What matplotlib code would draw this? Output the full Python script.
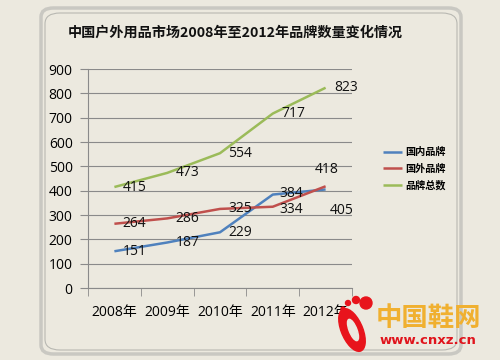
import matplotlib
matplotlib.use("Agg")
import matplotlib.pyplot as plt
from matplotlib.patches import FancyBboxPatch, Ellipse
import numpy as np

years = ["2008年", "2009年", "2010年", "2011年", "2012年"]
domestic = [151, 187, 229, 384, 405]
foreign = [264, 286, 325, 334, 418]
total = [415, 473, 554, 717, 823]
series_names = ["国内品牌", "国外品牌", "品牌总数"]
title = "中国户外用品市场2008年至2012年品牌数量变化情况"

FONT = ["Open Sans", "Noto Sans CJK SC"]
plt.rcParams['font.family'] = FONT
BG = "#ECE9DF"

fig = plt.figure(figsize=(5, 3.6), dpi=100)
fig.patch.set_facecolor(BG)

# outer frame
frame = FancyBboxPatch((41/500, 1-354/360), 420/500, 346/360,
                       boxstyle="round,pad=0,rounding_size=0.025",
                       transform=fig.transFigure, facecolor=BG,
                       edgecolor="#C9C8C2", linewidth=2.5, zorder=-2)
fig.patches.append(frame)
frame2 = FancyBboxPatch((45/500, 1-350/360), 412/500, 337/360,
                        boxstyle="round,pad=0,rounding_size=0.03",
                        transform=fig.transFigure, facecolor="none",
                        edgecolor="#B8B8B2", linewidth=0.8, zorder=-1)
fig.patches.append(frame2)

fig.text(68/500, 1-33/360, title, fontsize=10.2, fontweight="bold",
         family=["Noto Sans CJK SC"], va="center", ha="left", color="#111111")

ax = fig.add_axes([88/500, 1-288/360, 264/500, 219/360])
ax.set_zorder(3)
ax.set_facecolor("none")
x = np.arange(len(years))
colors = ["#4F81BD", "#C0504D", "#9BBB59"]
for vals, c, name in zip([domestic, foreign, total], colors, series_names):
    ax.plot(x, vals, color=c, linewidth=1.8, label=name, solid_capstyle="butt")

ax.set_xlim(-0.5, 4.5)
ax.set_ylim(0, 900)
ax.set_yticks(range(0, 901, 100))
ax.yaxis.grid(True, color="#8A8A8A", linewidth=0.8)
ax.set_axisbelow(True)
for s in ["top", "right"]:
    ax.spines[s].set_visible(False)
ax.spines["left"].set_color("#8A8A8A")
ax.spines["bottom"].set_color("#8A8A8A")
ax.set_xticks(x)
ax.set_xticklabels(years)
ax.set_xticks(np.arange(-0.5, 5, 1), minor=True)
ax.tick_params(axis="x", which="major", length=0, pad=12, labelsize=10)
ax.tick_params(axis="x", which="minor", length=6, color="#8A8A8A", direction="out")
ax.tick_params(axis="y", length=6, color="#8A8A8A", labelsize=10, pad=5)

# data labels
offsets = {
    (0, 3): (5, 1),
    (1, 3): (5, -2),
    (0, 4): (3, -15),
    (1, 4): (-8, 12),
}
for si, vals in enumerate([domestic, foreign, total]):
    for i, v in enumerate(vals):
        dx, dy = offsets.get((si, i), (6, 0))
        ax.annotate(str(v), (x[i], v), xytext=(dx, dy), textcoords="offset points",
                    ha="left", va="center", fontsize=10, color="#111111")

leg = fig.legend(loc="center left", bbox_to_anchor=(374/500, 1-169/360),
                 frameon=False, prop={"family": ["Noto Sans CJK SC"], "size": 7.3, "weight": "bold"},
                 handlelength=1.9, handletextpad=0.25, labelspacing=0.65)

# watermark
fig.patches.append(Ellipse((352/500, 1-330/360), 22/500, 44/360, angle=15,
                           transform=fig.transFigure, color="#E8141C", zorder=5))
fig.patches.append(Ellipse((353/500, 1-330/360), 8/500, 22/360, angle=15,
                           transform=fig.transFigure, color=BG, zorder=6))
for (cx, cy, r) in [(366, 303, 6), (356, 300, 3.5), (348, 303, 2.5), (343, 309, 2)]:
    fig.patches.append(Ellipse((cx/500, 1-cy/360), 2*r/500, 2*r/360,
                               transform=fig.transFigure, color="#E8141C", zorder=5))
fig.text(376/500, 1-318/360, "中国鞋网", fontsize=19, fontweight="bold",
         family=["Noto Sans CJK SC"], color="#F0B030", va="center", ha="left", zorder=7)
fig.text(380/500, 1-340/360, "www.cnxz.cn", fontsize=9.5, fontweight="bold",
         family=["DejaVu Sans"], color="#E0141C", va="center", ha="left", zorder=7)

fig.savefig("out.png", dpi=100, facecolor=BG)
